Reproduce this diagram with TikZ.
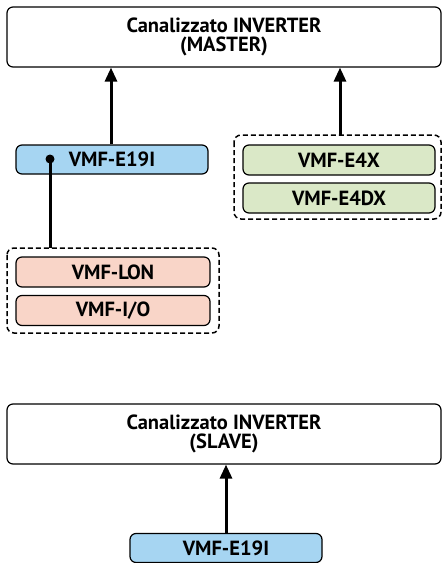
\documentclass[tikz,border=0pt]{standalone}
\usepackage{fontspec}
\setmainfont{PT Sans}
\usetikzlibrary{arrows.meta}
\definecolor{bluefill}{HTML}{A6D5F2}
\definecolor{pinkfill}{HTML}{F9D5C8}
\definecolor{greenfill}{HTML}{DAE8C7}
\tikzset{
  unitbox/.style={draw=black, line width=1.2pt, rounded corners=6pt, fill=white, align=center,
    font=\bfseries\fontsize{20.5}{19}\selectfont, inner sep=0pt},
  modbox/.style={draw=black, line width=1.2pt, rounded corners=6pt, inner sep=0pt,
    font=\bfseries\fontsize{20.5}{20}\selectfont},
  groupbox/.style={draw=black, line width=1.5pt, dash pattern=on 5pt off 3pt, rounded corners=7pt},
  arrowline/.style={line width=3pt, -{Triangle[length=14pt,width=12pt]}},
  plainline/.style={line width=3pt},
}
\begin{document}
\begin{tikzpicture}[x=1pt,y=-1pt]
\useasboundingbox (0,0) rectangle (443,563);
% master
\node[unitbox, minimum width=434pt, minimum height=60pt] (master) at (224,37) {Canalizzato INVERTER\\(MASTER)};
% groups
\draw[groupbox] (7,248) rectangle (219,333);
\node[inner sep=0pt, minimum width=212pt, minimum height=85pt] (grp1) at (113,290.5) {};
\draw[groupbox] (234,135) rectangle (441,219);
\node[inner sep=0pt, minimum width=207pt, minimum height=84pt] (grp2) at (337.5,177) {};
% modules
\node[modbox, fill=bluefill, minimum width=192pt, minimum height=29pt] (e19) at (112,159.5) {VMF-E19I};
\node[modbox, fill=pinkfill, minimum width=194pt, minimum height=30pt] (lon) at (113,272) {VMF-LON};
\node[modbox, fill=pinkfill, minimum width=194pt, minimum height=30pt] (io) at (113,310.5) {VMF-I/O};
\node[modbox, fill=greenfill, minimum width=192pt, minimum height=30pt] (e4x) at (339,160) {VMF-E4X};
\node[modbox, fill=greenfill, minimum width=192pt, minimum height=30pt] (e4dx) at (339,198) {VMF-E4DX};
% slave
\node[unitbox, minimum width=434pt, minimum height=60pt] (slave) at (224,434) {Canalizzato INVERTER\\(SLAVE)};
\node[modbox, fill=bluefill, minimum width=192pt, minimum height=29pt] (e19s) at (226,548) {VMF-E19I};
% connectors
\draw[arrowline] (e19.north -| 111,0) -- (master.south -| 111,0);
\draw[arrowline] (grp2.north -| 340,0) -- (master.south -| 340,0);
\coordinate (dot) at (50,159);
\fill (dot) circle (4.5pt);
\draw[plainline] (dot) -- (grp1.north -| dot);
\draw[arrowline] (e19s.north) -- (slave.south -| e19s.north);
\end{tikzpicture}
\end{document}
